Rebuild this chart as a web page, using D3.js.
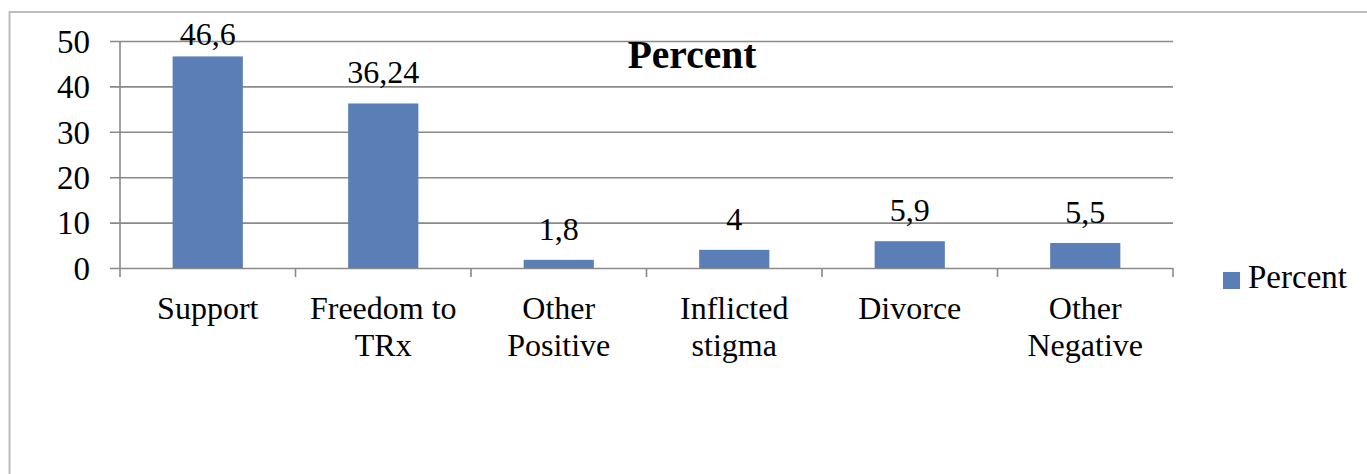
<!DOCTYPE html>
<html>
<head>
<meta charset="utf-8">
<script src="https://cdn.jsdelivr.net/npm/d3@7"></script>
<style>
  body { margin: 0; background: #fff; }
  svg text { font-family: "Liberation Serif", "Times New Roman", serif; fill: #000; }
</style>
</head>
<body>
<svg id="chart"></svg>
<script>
// chart values
var categories = ["Support", "Freedom to TRx", "Other Positive", "Inflicted stigma", "Divorce", "Other Negative"];
var values = [46.6, 36.24, 1.8, 4, 5.9, 5.5];
var valueLabels = ["46,6", "36,24", "1,8", "4", "5,9", "5,5"];
var yTicks = [0, 10, 20, 30, 40, 50];
var seriesName = "Percent";

var width = 1367, height = 474;
var margins = {left: 120, right: 194, top: 41, bottom: 206};
var barColor = "#5a7fb7";
var gridColor = "#8a8a8a";

var svg = d3.select("#chart")
  .attr("width", width)
  .attr("height", height);

svg.append("rect")
  .attr("width", width).attr("height", height)
  .attr("fill", "#fff");

// outer chart border (runs off the right and bottom of the picture)
svg.append("rect")
  .attr("x", 9.5).attr("y", 12)
  .attr("width", width + 20).attr("height", height + 20)
  .attr("fill", "none")
  .attr("stroke", "#bdbdbd")
  .attr("stroke-width", 2);

var plotW = width - margins.left - margins.right;
var plotH = height - margins.top - margins.bottom;

var xScale = d3.scaleBand()
  .domain(categories)
  .range([0, plotW])
  .paddingInner(0.6)
  .paddingOuter(0.3);

var yScale = d3.scaleLinear()
  .domain([0, 50])
  .range([plotH, 0]);

var g = svg.append("g")
  .attr("transform", "translate(" + margins.left + "," + margins.top + ")");

// gridlines + y ticks
var yAxis = g.append("g")
  .attr("class", "y axis")
  .call(d3.axisLeft(yScale).tickValues(yTicks).tickSize(-plotW - 10).tickPadding(20).tickFormat(d3.format("d")));

yAxis.select(".domain").remove();
yAxis.selectAll(".tick line")
  .attr("x1", -10).attr("x2", plotW)
  .attr("stroke", gridColor)
  .attr("stroke-width", 1.6);
yAxis.selectAll(".tick text")
  .attr("x", -30)
  .attr("dy", "0.34em")
  .attr("font-size", 33);

// y axis line
g.append("line")
  .attr("x1", 0).attr("x2", 0)
  .attr("y1", 0).attr("y2", plotH)
  .attr("stroke", gridColor)
  .attr("stroke-width", 1.6);

// category ticks along the bottom, at band edges
var step = xScale.step();
var edges = d3.range(categories.length + 1).map(i => i * step);
g.selectAll(".catTick")
  .data(edges)
  .enter().append("line")
  .attr("class", "catTick")
  .attr("x1", d => d).attr("x2", d => d)
  .attr("y1", plotH).attr("y2", plotH + 9)
  .attr("stroke", gridColor)
  .attr("stroke-width", 1.6);

// bars
g.selectAll(".bar")
  .data(values)
  .enter().append("rect")
  .attr("class", "bar")
  .attr("x", (d, i) => xScale(categories[i]))
  .attr("y", d => yScale(d))
  .attr("width", xScale.bandwidth())
  .attr("height", d => plotH - yScale(d))
  .attr("fill", barColor);

// value labels, kept inside the plot area like excel does
g.selectAll(".valueLabel")
  .data(values)
  .enter().append("text")
  .attr("class", "valueLabel")
  .attr("x", (d, i) => xScale(categories[i]) + xScale.bandwidth() / 2)
  .attr("y", d => Math.max(yScale(d) - 20, 4))
  .attr("text-anchor", "middle")
  .attr("font-size", 32)
  .text((d, i) => valueLabels[i]);

// category labels, wrapped to the band step
var catLabels = g.selectAll(".catLabel")
  .data(categories)
  .enter().append("text")
  .attr("class", "catLabel")
  .attr("x", d => xScale(d) + xScale.bandwidth() / 2)
  .attr("y", plotH + 51)
  .attr("text-anchor", "middle")
  .attr("font-size", 32)
  .text(d => d);

catLabels.each(function(d) {
  wrap(d3.select(this), step - 6);
});

function wrap(text, maxWidth) {
  var words = text.text().split(/\s+/);
  var x = text.attr("x");
  text.text(null);
  var line = [];
  var tspan = text.append("tspan").attr("x", x).attr("dy", 0);
  words.forEach(function(word) {
    line.push(word);
    tspan.text(line.join(" "));
    if (tspan.node().getComputedTextLength() > maxWidth && line.length > 1) {
      line.pop();
      tspan.text(line.join(" "));
      line = [word];
      tspan = text.append("tspan").attr("x", x).attr("dy", 37).text(word);
    }
  });
}

// title
svg.append("text")
  .attr("x", 692)
  .attr("y", 68)
  .attr("text-anchor", "middle")
  .attr("font-size", 39.5)
  .attr("font-weight", "bold")
  .text(seriesName);

// legend
var legend = svg.append("g")
  .attr("transform", "translate(1223, 272)");
legend.append("rect")
  .attr("width", 17).attr("height", 17)
  .attr("fill", barColor);
legend.append("text")
  .attr("x", 25).attr("y", 16)
  .attr("font-size", 33)
  .text(seriesName);
</script>
</body>
</html>
